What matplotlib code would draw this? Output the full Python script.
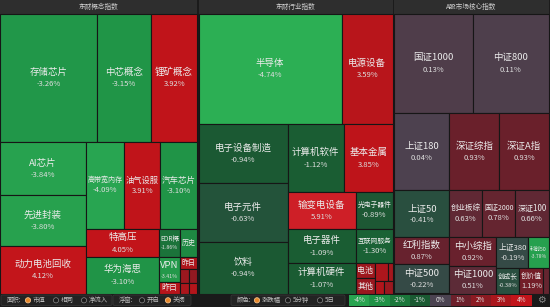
import matplotlib
matplotlib.use('Agg')
import matplotlib.pyplot as plt
from matplotlib.patches import Rectangle, Circle, FancyBboxPatch
from matplotlib.colors import LinearSegmentedColormap, Normalize

plt.rcParams['font.family'] = ['Noto Sans CJK SC', 'DejaVu Sans']

# ------------------------
# Data
# ------------------------
group_titles = ['东财概念指数', '东财行业指数', 'A股市场核心指数']

concept_names = ['存储芯片', '中芯概念', '锂矿概念', 'AI芯片', '先进封装', '动力电池回收',
                 '高带宽内存', '油气设服', '汽车芯片', '特高压', '华为海思',
                 'EDR概', '历史', 'VPN', '昨日', '昨日', '', '', '', '']
concept_pct = [-3.26, -3.15, 3.92, -3.84, -3.80, 4.12, -4.09, 3.91, -3.10, 4.05, -3.10,
               -1.86, -2.60, -3.41, 3.50, 3.20, 2.50, 3.00, 2.20, 3.40]
concept_size = [12416, 6912, 5888, 4558, 4386, 4042, 3306, 3132, 3219, 2044, 2628,
                588, 476, 525, 231, 204, 126, 90, 112, 80]

industry_names = ['半导体', '电源设备', '电子设备制造', '电子元件', '饮料', '计算机软件', '基本金属',
                  '输变电设备', '电子器件', '计算机硬件', '光电子器件', '互联网服务', '电池', '其他',
                  '', '', '', '']
industry_pct = [-4.74, 3.59, -0.94, -0.63, -0.94, -1.12, 3.85, 5.91, -1.09, -1.07, -0.89, -1.30,
                2.60, 2.40, 3.10, 2.80, 3.30, 2.50]
industry_size = [15730, 5610, 5251, 5251, 4539, 3808, 3332, 2516, 2312, 2040, 1369, 1258,
                 285, 285, 234, 90, 108, 108]

core_names = ['国证1000', '中证800', '上证180', '深证综指', '深证A指', '上证50', '红利指数', '中证500',
              '创业板综', '国证2000', '深证100', '中小综指', '中证1000', '上证380', '科创50',
              '创成长', '创价值', '']
core_pct = [0.13, 0.11, 0.04, 0.93, 0.93, -0.41, 0.87, -0.22, 0.63, 0.78, 0.66, 0.92, 0.51,
            -0.19, -3.78, -0.38, 1.19, 0.80]
core_size = [7821, 7425, 4235, 3850, 3773, 2585, 1485, 1595, 1551, 1551, 1551, 1363, 1269,
             992, 620, 575, 600, 125]

# how the treemap nests each group ('h' = side by side, 'v' = stacked)
concept_tree = ('v', [('h', [0, 1, 2]),
                      ('h', [('v', [3, 4, 5]),
                             ('v', [('h', [6, 7, 8]),
                                    ('h', [('v', [9, 10]),
                                           ('v', [('h', [11, 12]),
                                                  ('h', [('v', [13, 14]),
                                                         ('v', [15, ('h', [('v', [16, 17]),
                                                                           ('v', [18, 19])])])])])])])])])
industry_tree = ('v', [('h', [0, 1]),
                       ('h', [('v', [2, 3, 4]),
                              ('v', [('h', [5, 6]),
                                     ('h', [('v', [7, 8, 9]),
                                            ('v', [10, 11, ('h', [('v', [12, 13]),
                                                                  ('v', [('h', [14, 15]),
                                                                         ('h', [16, 17])])])])])])])])
core_tree = ('v', [('h', [0, 1]),
                   ('h', [2, 3, 4]),
                   ('h', [('v', [5, 6, 7]),
                          ('v', [('h', [8, 9, 10]),
                                 ('h', [('v', [11, 12]),
                                        ('v', [('h', [13, 14]), ('h', [15, 16, 17])])])])])])

legend_values = [-4, -3, -2, -1, 0, 1, 2, 3, 4]

# ------------------------
# Colour scale
# ------------------------
anchors = [(-5, '#2db356'), (-4, '#28a450'), (-3, '#1f9246'), (-2, '#1b773b'), (-1, '#1a5a32'),
           (-0.3, '#2c4d42'), (0, '#4b4351'), (0.5, '#5b2c38'), (1, '#6c1f2a'), (2, '#8c1a22'),
           (3, '#aa161c'), (4, '#c2141a'), (6, '#cf2028')]
vmin, vmax = anchors[0][0], anchors[-1][0]
cmap = LinearSegmentedColormap.from_list(
    'updown', [((v - vmin) / (vmax - vmin), c) for v, c in anchors])
norm = Normalize(vmin, vmax)


def weight(node, sizes):
    if isinstance(node, int):
        return sizes[node]
    return sum(weight(k, sizes) for k in node[1])


def layout(node, sizes, x, y, w, h, out):
    if isinstance(node, int):
        out.append((node, x, y, w, h))
        return
    d, kids = node
    total = weight(node, sizes)
    pos = 0.0
    for k in kids:
        f = weight(k, sizes) / total
        if d == 'h':
            layout(k, sizes, x + pos * w, y, f * w, h, out)
        else:
            layout(k, sizes, x, y + pos * h, w, f * h, out)
        pos += f


def text_units(s):
    return sum(1.0 if ord(ch) > 255 else 0.58 for ch in s)


PX = 100 / 72  # px per pt at dpi 100

# ------------------------
# Figure
# ------------------------
fig = plt.figure(figsize=(5.5, 3.07), dpi=100)
fig.patch.set_facecolor('#1b1b1b')
ax = fig.add_axes([0, 0, 1, 1])
ax.set_xlim(0, 550)
ax.set_ylim(307, 0)
ax.axis('off')

top, bottom, right = 14, 293.5, 548.5
gap = 1.5
groups = [(concept_names, concept_pct, concept_size, concept_tree),
          (industry_names, industry_pct, industry_size, industry_tree),
          (core_names, core_pct, core_size, core_tree)]
totals = [weight(g[3], g[2]) for g in groups]
usable = right - gap * (len(groups) - 1)

gx = 0.0
for title, (names, pct, sizes, tree), tot in zip(group_titles, groups, totals):
    gw = usable * tot / sum(totals)
    ax.add_patch(Rectangle((gx, 0), gw, top - 0.5, facecolor='#2e2e2e', edgecolor='none'))
    ax.text(gx + gw / 2, 6.8, title, ha='center', va='center', fontsize=4.8, color='#cfcfcf')

    cells = []
    layout(tree, sizes, gx, top, gw, bottom - top, cells)
    for i, x, y, w, h in cells:
        ax.add_patch(Rectangle((x, y), w, h, facecolor=cmap(norm(pct[i])),
                               edgecolor='#161616', linewidth=0.8))
        name = names[i]
        if not name:
            continue
        fs_name = min(6.8, (w - 3) / (text_units(name) * PX), (h - 1) / (1.25 * PX))
        label = f'{pct[i]:.2f}%'
        fs_pct = min(5.5, (w - 2) / (len(label) * 0.6 * PX))
        cx, cy = x + w / 2, y + h / 2
        if h >= 20 and fs_pct >= 3.4:
            npx, ppx = fs_name * PX, fs_pct * PX
            block = 1.4 * (npx + ppx)
            ax.text(cx, cy - block / 2 + 0.7 * npx - 0.3, name, ha='center', va='center',
                    fontsize=fs_name, color='#ececec')
            ax.text(cx, cy + block / 2 - 0.7 * ppx - 0.3, label, ha='center', va='center',
                    fontsize=fs_pct, color='#dedede')
        else:
            ax.text(cx, cy, name, ha='center', va='center', fontsize=fs_name, color='#ececec')
    gx += gw + gap

# ------------------------
# Bottom toolbar
# ------------------------
ax.add_patch(Rectangle((0, bottom), 550, 307 - bottom, facecolor='#1a1a1a', edgecolor='none'))
ty = 300.3
for bx, bw in [(1, 111), (113, 78), (231, 114)]:
    ax.add_patch(FancyBboxPatch((bx, 295), bw, 10.5, boxstyle='round,pad=0,rounding_size=1.5',
                                facecolor='#232323', edgecolor='#3a3a3a', linewidth=0.5))

toolbar = [(7, '面积:', None), (28, '市值', True), (56, '相同', False), (84, '净流入', False),
           (119, '浮窗:', None), (142, '开启', False), (168, '关闭', True),
           (237, '颜色:', None), (257, '涨跌幅', True), (288, '5分钟', False), (320, '5日', False)]
for x, lab, on in toolbar:
    if on is None:
        ax.text(x, ty, lab, ha='left', va='center', fontsize=4.6, color='#bdbdbd')
        continue
    if on:
        ax.add_patch(Circle((x, ty), 2.6, facecolor='#e8892b', edgecolor='#f5c08a', linewidth=0.6))
    else:
        ax.add_patch(Circle((x, ty), 2.6, facecolor='#1a1a1a', edgecolor='#8a8a8a', linewidth=0.5))
    ax.text(x + 4.5, ty, lab, ha='left', va='center', fontsize=4.6, color='#bdbdbd')

lx, lw = 349, 20.3
for k, v in enumerate(legend_values):
    ax.add_patch(Rectangle((lx + k * lw, 294.5), lw, 11.5, facecolor=cmap(norm(v)),
                           edgecolor='none'))
    ax.text(lx + k * lw + lw / 2, ty, f'{v}%', ha='center', va='center',
            fontsize=4.6, color='#e6e6e6')
ax.text(541, ty, '\u2699', ha='center', va='center', fontsize=7, color='#8a8a8a',
        family='DejaVu Sans')

plt.savefig('out.png', dpi=100, facecolor=fig.get_facecolor())
